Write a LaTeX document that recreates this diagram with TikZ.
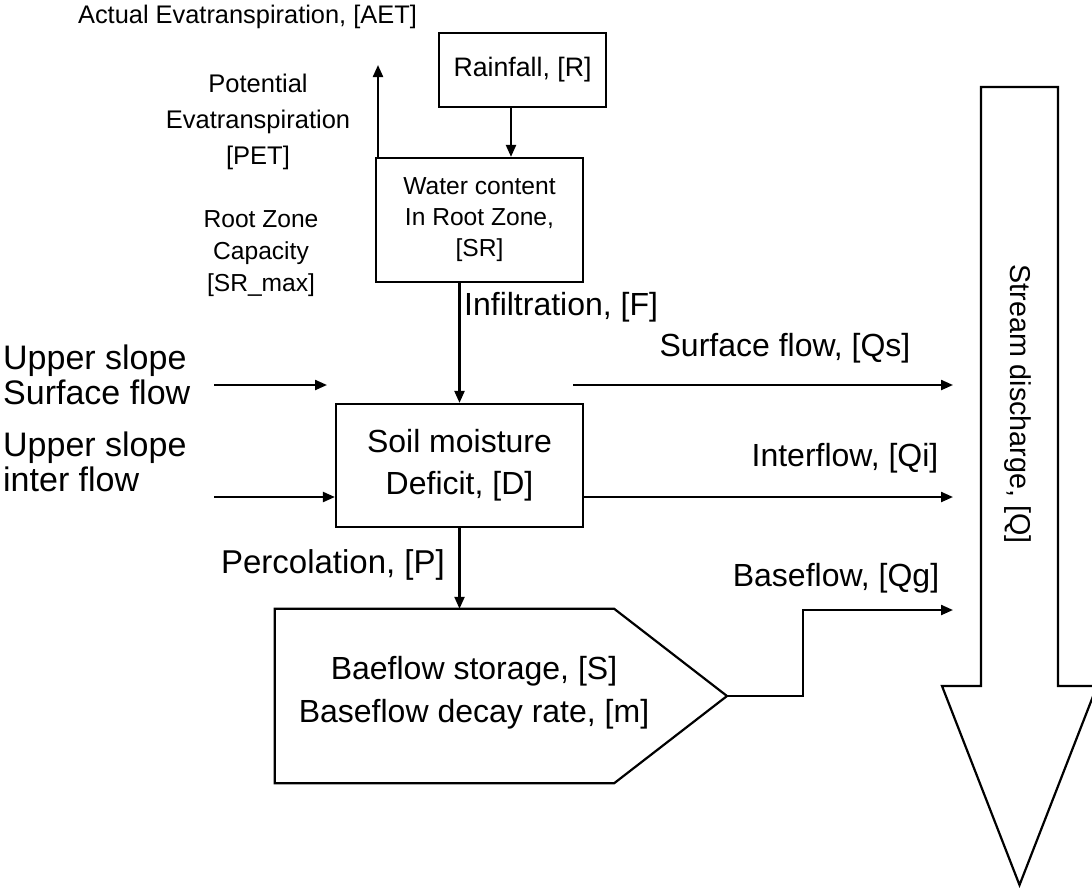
\documentclass[tikz,border=0pt]{standalone}
\usepackage{fontspec}
\setmainfont{Liberation Sans}
\usetikzlibrary{arrows.meta}

\begin{document}
\begin{tikzpicture}[x=1pt,y=-1pt,
  box/.style={draw,line width=2.2pt,inner sep=0pt},
  flow/.style={line width=2.2pt,-{Triangle[length=12pt,width=10pt]}},
  big/.style={font=\fontsize{32}{42}\selectfont,inner sep=0pt,align=center},
  mid/.style={font=\fontsize{26.7}{33}\selectfont,inner sep=0pt,align=center}]
  \useasboundingbox (0,0) rectangle (1092,887);

  % cajas
  \node[box,mid,minimum width=167pt,minimum height=74pt] (rain) at (522.5,70) {Rainfall, [R]};
  \node[box,minimum width=207pt,minimum height=124pt,align=center,
        font=\fontsize{24.6}{31}\selectfont] (sr) at (479.5,220) {Water content\\In Root Zone,\\{}[SR]};
  \node[box,big,minimum width=247pt,minimum height=123pt] (soil) at (459.5,465.5) {Soil moisture\\Deficit, [D]};
  \node[minimum width=339pt,minimum height=174pt] (store) at (444.5,696) {};
  \coordinate (tip) at (727,696);
  \draw[box] (store.north west) -- (store.north east) -- (tip)
    -- (store.south east) -- (store.south west) -- cycle;
  \node[big,font=\fontsize{32}{43}\selectfont] (stxt) at (474,693) {Baeflow storage, [S]\\Baseflow decay rate, [m]};

  % flecha del caudal
  \draw[box] (981,87) -- (1058,87) -- (1058,686) -- (1097,686) -- (1019.5,885)
    -- (942,686) -- (981,686) -- cycle;
  \node[font=\fontsize{28.7}{30}\selectfont,inner sep=0pt,rotate=-90] (lq) at (1018,404) {Stream discharge, [Q]};

  % textos
  \node[font=\fontsize{25.4}{30}\selectfont,inner sep=0pt] (laet) at (247.5,17) {Actual Evatranspiration, [AET]};
  \node[font=\fontsize{25.5}{36}\selectfont,inner sep=0pt,align=center] (lpet) at (258,122) {Potential\\Evatranspiration\\{}[PET]};
  \node[font=\fontsize{24.6}{32}\selectfont,inner sep=0pt,align=center] (lcap) at (261,254) {Root Zone\\Capacity\\{}[SR\_max]};
  \node[big,anchor=west] (lf) at (464,307) {Infiltration, [F]};
  \node[font=\fontsize{34}{35}\selectfont,inner sep=0pt,align=left,anchor=west] (lus) at (3,375) {Upper slope\\Surface flow};
  \node[font=\fontsize{34}{35}\selectfont,inner sep=0pt,align=left,anchor=west] (lui) at (3,462) {Upper slope\\inter flow};
  \node[big] (lqs) at (785,348) {Surface flow, [Qs]};
  \node[big] (lqi) at (845,458) {Interflow, [Qi]};
  \node[big,font=\fontsize{33}{42}\selectfont] (lp) at (333,565) {Percolation, [P]};
  \node[big] (lqg) at (836,578) {Baseflow, [Qg]};

  % conectores
  \coordinate (aet) at (378,65);
  \coordinate (us0) at (214,385);
  \coordinate (us1) at (327,385);
  \coordinate (ui0) at (214,497);
  \coordinate (qs0) at (573,385);
  \coordinate (qs) at (953,385);
  \coordinate (qi) at (953,497);
  \coordinate (qg) at (953,610);
  \draw[flow] (aet |- sr.north) -- (aet);
  \draw[flow] ([xshift=-11.5pt]rain.south) -- ([xshift=-11.5pt]rain.south |- sr.north);
  \draw[flow] (sr.south -| soil.north) -- (soil.north);
  \draw[flow] (us0) -- (us1);
  \draw[flow] (ui0) -- (ui0 -| soil.west);
  \draw[flow] (qs0) -- (qs);
  \draw[flow] (soil.east |- qi) -- (qi);
  \draw[flow] (soil.south) -- (soil.south |- store.north);
  \draw[flow] (tip) -- ++(76,0) |- (qg);
\end{tikzpicture}
\end{document}
